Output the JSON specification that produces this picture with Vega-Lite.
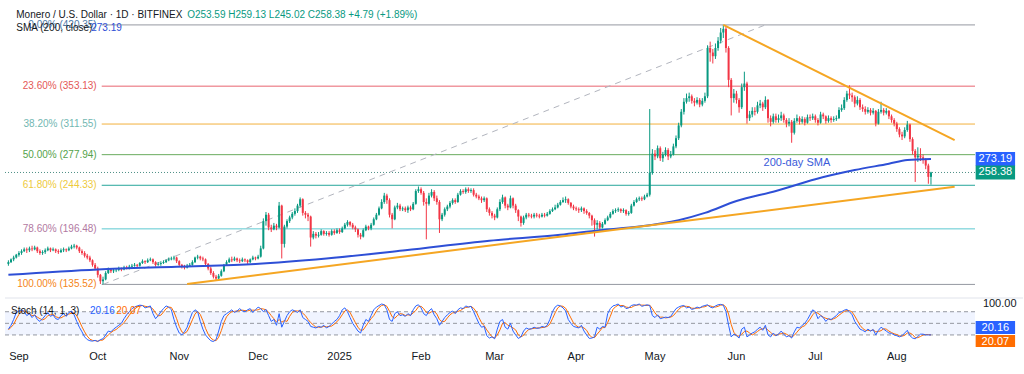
{
"$schema":"https://vega.github.io/schema/vega-lite/v6.json",
"padding":0,
"background":"white",
"width":980,"height":345,
"config":{"font":"Liberation Sans","view":{"stroke":null},"axis":{"labelFont":"Liberation Sans","labelFontSize":11,"labelColor":"#131722","grid":false,"domain":false,"ticks":false},"text":{"font":"Liberation Sans"}},
"datasets":{
"px":[
{"d":"2024-08-28","o":158,"h":162,"l":156,"c":160,"k":35,"s":33},
{"d":"2024-08-29","o":160,"h":164,"l":159,"c":163,"k":45,"s":40},
{"d":"2024-08-30","o":163,"h":167,"l":161,"c":165,"k":60,"s":47},
{"d":"2024-08-31","o":165,"h":169,"l":164,"c":168,"k":78,"s":61},
{"d":"2024-09-01","o":168,"h":172,"l":166,"c":170,"k":82,"s":73},
{"d":"2024-09-02","o":170,"h":174,"l":168,"c":172,"k":85,"s":82},
{"d":"2024-09-03","o":172,"h":176,"l":171,"c":174,"k":80,"s":82},
{"d":"2024-09-04","o":174,"h":176,"l":170,"c":173,"k":70,"s":78},
{"d":"2024-09-05","o":173,"h":177,"l":171,"c":175,"k":75,"s":75},
{"d":"2024-09-06","o":175,"h":178,"l":172,"c":174,"k":65,"s":70},
{"d":"2024-09-07","o":174,"h":178,"l":173,"c":176,"k":72,"s":71},
{"d":"2024-09-08","o":176,"h":177,"l":170,"c":172,"k":60,"s":66},
{"d":"2024-09-09","o":172,"h":174,"l":168,"c":170,"k":55,"s":62},
{"d":"2024-09-10","o":170,"h":173,"l":168,"c":171,"k":62,"s":59},
{"d":"2024-09-11","o":171,"h":175,"l":169,"c":173,"k":70,"s":62},
{"d":"2024-09-12","o":173,"h":177,"l":172,"c":175,"k":78,"s":70},
{"d":"2024-09-13","o":175,"h":176,"l":171,"c":173,"k":68,"s":72},
{"d":"2024-09-14","o":173,"h":176,"l":172,"c":174,"k":72,"s":73},
{"d":"2024-09-15","o":174,"h":175,"l":170,"c":172,"k":62,"s":67},
{"d":"2024-09-16","o":172,"h":174,"l":169,"c":171,"k":60,"s":65},
{"d":"2024-09-17","o":171,"h":175,"l":170,"c":173,"k":70,"s":64},
{"d":"2024-09-18","o":173,"h":176,"l":171,"c":174,"k":75,"s":68},
{"d":"2024-09-19","o":174,"h":175,"l":171,"c":173,"k":68,"s":71},
{"d":"2024-09-20","o":173,"h":177,"l":172,"c":175,"k":78,"s":74},
{"d":"2024-09-21","o":175,"h":179,"l":174,"c":177,"k":82,"s":76},
{"d":"2024-09-22","o":177,"h":180,"l":175,"c":178,"k":72,"s":77},
{"d":"2024-09-23","o":178,"h":179,"l":174,"c":176,"k":55,"s":70},
{"d":"2024-09-24","o":176,"h":177,"l":170,"c":172,"k":40,"s":56},
{"d":"2024-09-25","o":172,"h":174,"l":168,"c":170,"k":28,"s":41},
{"d":"2024-09-26","o":170,"h":172,"l":165,"c":167,"k":15,"s":28},
{"d":"2024-09-27","o":167,"h":169,"l":163,"c":165,"k":8,"s":17},
{"d":"2024-09-28","o":165,"h":167,"l":160,"c":162,"k":5,"s":9},
{"d":"2024-09-29","o":162,"h":163,"l":155,"c":157,"k":4,"s":6},
{"d":"2024-09-30","o":157,"h":159,"l":151,"c":153,"k":6,"s":5},
{"d":"2024-10-01","o":153,"h":155,"l":143,"c":146,"k":3,"s":4},
{"d":"2024-10-02","o":146,"h":147,"l":136,"c":139,"k":8,"s":6},
{"d":"2024-10-03","o":139,"h":144,"l":135.52,"c":141,"k":10,"s":7},
{"d":"2024-10-04","o":141,"h":150,"l":140,"c":148,"k":20,"s":13},
{"d":"2024-10-05","o":148,"h":154,"l":147,"c":152,"k":30,"s":20},
{"d":"2024-10-06","o":152,"h":153,"l":148,"c":150,"k":28,"s":26},
{"d":"2024-10-07","o":150,"h":153,"l":148,"c":151,"k":35,"s":31},
{"d":"2024-10-08","o":151,"h":153,"l":149,"c":151.5,"k":40,"s":34},
{"d":"2024-10-09","o":151.5,"h":155,"l":150,"c":153,"k":45,"s":40},
{"d":"2024-10-10","o":153,"h":154,"l":150,"c":152,"k":50,"s":45},
{"d":"2024-10-11","o":152,"h":156,"l":151,"c":154,"k":62,"s":52},
{"d":"2024-10-12","o":154,"h":156,"l":152,"c":153,"k":72,"s":61},
{"d":"2024-10-13","o":153,"h":157,"l":152,"c":155,"k":80,"s":71},
{"d":"2024-10-14","o":155,"h":158,"l":154,"c":156,"k":88,"s":80},
{"d":"2024-10-15","o":156,"h":159,"l":155,"c":157,"k":92,"s":87},
{"d":"2024-10-16","o":157,"h":158,"l":154,"c":156,"k":95,"s":92},
{"d":"2024-10-17","o":156,"h":160,"l":155,"c":159,"k":97,"s":95},
{"d":"2024-10-18","o":159,"h":163,"l":158,"c":161,"k":96,"s":96},
{"d":"2024-10-19","o":161,"h":162,"l":158,"c":160,"k":90,"s":94},
{"d":"2024-10-20","o":160,"h":164,"l":159,"c":162,"k":92,"s":93},
{"d":"2024-10-21","o":162,"h":165,"l":161,"c":163,"k":95,"s":92},
{"d":"2024-10-22","o":163,"h":164,"l":158,"c":160,"k":75,"s":87},
{"d":"2024-10-23","o":160,"h":161,"l":155,"c":157,"k":62,"s":77},
{"d":"2024-10-24","o":157,"h":160,"l":156,"c":158,"k":70,"s":69},
{"d":"2024-10-25","o":158,"h":161,"l":156,"c":159,"k":80,"s":71},
{"d":"2024-10-26","o":159,"h":162,"l":158,"c":160,"k":88,"s":79},
{"d":"2024-10-27","o":160,"h":163,"l":159,"c":162,"k":95,"s":88},
{"d":"2024-10-28","o":162,"h":165,"l":161,"c":163,"k":92,"s":92},
{"d":"2024-10-29","o":163,"h":166,"l":162,"c":164,"k":85,"s":91},
{"d":"2024-10-30","o":164,"h":167,"l":162,"c":165,"k":60,"s":79},
{"d":"2024-10-31","o":165,"h":166,"l":159,"c":161,"k":40,"s":62},
{"d":"2024-11-01","o":161,"h":162,"l":155,"c":157,"k":25,"s":42},
{"d":"2024-11-02","o":157,"h":158,"l":153,"c":155,"k":20,"s":28},
{"d":"2024-11-03","o":155,"h":157,"l":152,"c":154,"k":28,"s":24},
{"d":"2024-11-04","o":154,"h":158,"l":153,"c":156,"k":40,"s":29},
{"d":"2024-11-05","o":156,"h":159,"l":155,"c":157,"k":60,"s":43},
{"d":"2024-11-06","o":157,"h":162,"l":156,"c":160,"k":78,"s":59},
{"d":"2024-11-07","o":160,"h":166,"l":159,"c":165,"k":85,"s":74},
{"d":"2024-11-08","o":165,"h":168,"l":163,"c":166,"k":80,"s":81},
{"d":"2024-11-09","o":166,"h":167,"l":162,"c":164,"k":55,"s":73},
{"d":"2024-11-10","o":164,"h":166,"l":161,"c":163,"k":35,"s":57},
{"d":"2024-11-11","o":163,"h":164,"l":156,"c":158,"k":20,"s":37},
{"d":"2024-11-12","o":158,"h":159,"l":151,"c":153,"k":12,"s":22},
{"d":"2024-11-13","o":153,"h":155,"l":146,"c":148,"k":5,"s":12},
{"d":"2024-11-14","o":148,"h":150,"l":142,"c":144,"k":3,"s":7},
{"d":"2024-11-15","o":144,"h":146,"l":140,"c":142,"k":8,"s":5},
{"d":"2024-11-16","o":142,"h":147,"l":141,"c":145,"k":30,"s":14},
{"d":"2024-11-17","o":145,"h":152,"l":144,"c":150,"k":55,"s":31},
{"d":"2024-11-18","o":150,"h":158,"l":149,"c":157,"k":70,"s":52},
{"d":"2024-11-19","o":157,"h":162,"l":156,"c":160,"k":75,"s":67},
{"d":"2024-11-20","o":160,"h":165,"l":159,"c":163,"k":80,"s":75},
{"d":"2024-11-21","o":163,"h":166,"l":160,"c":162,"k":85,"s":80},
{"d":"2024-11-22","o":162,"h":166,"l":161,"c":164,"k":78,"s":81},
{"d":"2024-11-23","o":164,"h":165,"l":160,"c":162,"k":82,"s":82},
{"d":"2024-11-24","o":162,"h":164,"l":159,"c":161,"k":88,"s":83},
{"d":"2024-11-25","o":161,"h":165,"l":160,"c":163,"k":82,"s":84},
{"d":"2024-11-26","o":163,"h":164,"l":160,"c":162,"k":80,"s":83},
{"d":"2024-11-27","o":162,"h":163,"l":158,"c":160,"k":85,"s":82},
{"d":"2024-11-28","o":160,"h":164,"l":159,"c":163,"k":88,"s":84},
{"d":"2024-11-29","o":163,"h":167,"l":162,"c":165,"k":78,"s":84},
{"d":"2024-11-30","o":165,"h":166,"l":162,"c":164,"k":85,"s":84},
{"d":"2024-12-01","o":164,"h":168,"l":163,"c":166,"k":92,"s":85},
{"d":"2024-12-02","o":166,"h":178,"l":165,"c":175,"k":88,"s":88},
{"d":"2024-12-03","o":175,"h":208,"l":174,"c":205,"k":80,"s":87},
{"d":"2024-12-04","o":205,"h":215,"l":200,"c":212,"k":86,"s":85},
{"d":"2024-12-05","o":212,"h":214,"l":195,"c":198,"k":70,"s":79},
{"d":"2024-12-06","o":198,"h":201,"l":193,"c":196,"k":55,"s":70},
{"d":"2024-12-07","o":196,"h":203,"l":195,"c":200,"k":60,"s":62},
{"d":"2024-12-08","o":200,"h":202,"l":195,"c":198,"k":45,"s":53},
{"d":"2024-12-09","o":198,"h":226,"l":197,"c":222,"k":75,"s":60},
{"d":"2024-12-10","o":222,"h":223,"l":164,"c":180,"k":40,"s":53},
{"d":"2024-12-11","o":180,"h":201,"l":176,"c":199,"k":55,"s":57},
{"d":"2024-12-12","o":199,"h":207,"l":197,"c":205,"k":70,"s":55},
{"d":"2024-12-13","o":205,"h":211,"l":203,"c":209,"k":80,"s":68},
{"d":"2024-12-14","o":209,"h":215,"l":207,"c":213,"k":85,"s":78},
{"d":"2024-12-15","o":213,"h":219,"l":211,"c":216,"k":82,"s":82},
{"d":"2024-12-16","o":216,"h":224,"l":214,"c":222,"k":78,"s":82},
{"d":"2024-12-17","o":222,"h":231,"l":220,"c":229,"k":85,"s":82},
{"d":"2024-12-18","o":229,"h":230,"l":211,"c":214,"k":65,"s":76},
{"d":"2024-12-19","o":214,"h":216,"l":208,"c":212,"k":60,"s":70},
{"d":"2024-12-20","o":212,"h":214,"l":205,"c":210,"k":55,"s":60},
{"d":"2024-12-21","o":210,"h":211,"l":177,"c":187,"k":42,"s":52},
{"d":"2024-12-22","o":187,"h":194,"l":185,"c":191,"k":40,"s":46},
{"d":"2024-12-23","o":191,"h":193,"l":186,"c":189,"k":38,"s":40},
{"d":"2024-12-24","o":189,"h":193,"l":187,"c":190,"k":42,"s":40},
{"d":"2024-12-25","o":190,"h":196,"l":189,"c":194,"k":40,"s":40},
{"d":"2024-12-26","o":194,"h":195,"l":189,"c":191,"k":45,"s":42},
{"d":"2024-12-27","o":191,"h":194,"l":189,"c":192,"k":38,"s":41},
{"d":"2024-12-28","o":192,"h":194,"l":188,"c":190,"k":42,"s":42},
{"d":"2024-12-29","o":190,"h":196,"l":189,"c":194,"k":48,"s":43},
{"d":"2024-12-30","o":194,"h":196,"l":190,"c":192,"k":55,"s":48},
{"d":"2024-12-31","o":192,"h":197,"l":191,"c":195,"k":60,"s":54},
{"d":"2025-01-01","o":195,"h":197,"l":191,"c":193,"k":70,"s":62},
{"d":"2025-01-02","o":193,"h":199,"l":192,"c":197,"k":85,"s":72},
{"d":"2025-01-03","o":197,"h":203,"l":196,"c":201,"k":90,"s":82},
{"d":"2025-01-04","o":201,"h":206,"l":199,"c":204,"k":80,"s":85},
{"d":"2025-01-05","o":204,"h":205,"l":199,"c":201,"k":65,"s":78},
{"d":"2025-01-06","o":201,"h":203,"l":196,"c":198,"k":50,"s":65},
{"d":"2025-01-07","o":198,"h":200,"l":193,"c":196,"k":40,"s":52},
{"d":"2025-01-08","o":196,"h":197,"l":187,"c":190,"k":30,"s":40},
{"d":"2025-01-09","o":190,"h":192,"l":185,"c":188,"k":25,"s":32},
{"d":"2025-01-10","o":188,"h":197,"l":187,"c":195,"k":45,"s":33},
{"d":"2025-01-11","o":195,"h":201,"l":194,"c":199,"k":60,"s":43},
{"d":"2025-01-12","o":199,"h":200,"l":195,"c":197,"k":55,"s":53},
{"d":"2025-01-13","o":197,"h":203,"l":195,"c":201,"k":70,"s":62},
{"d":"2025-01-14","o":201,"h":209,"l":200,"c":207,"k":85,"s":70},
{"d":"2025-01-15","o":207,"h":214,"l":206,"c":212,"k":92,"s":82},
{"d":"2025-01-16","o":212,"h":221,"l":211,"c":219,"k":96,"s":91},
{"d":"2025-01-17","o":219,"h":229,"l":218,"c":226,"k":100,"s":96},
{"d":"2025-01-18","o":226,"h":236,"l":224,"c":233,"k":98,"s":98},
{"d":"2025-01-19","o":233,"h":235,"l":224,"c":228,"k":85,"s":94},
{"d":"2025-01-20","o":228,"h":230,"l":209,"c":212,"k":60,"s":81},
{"d":"2025-01-21","o":212,"h":214,"l":197,"c":207,"k":55,"s":67},
{"d":"2025-01-22","o":207,"h":222,"l":206,"c":220,"k":75,"s":63},
{"d":"2025-01-23","o":220,"h":225,"l":218,"c":222,"k":80,"s":70},
{"d":"2025-01-24","o":222,"h":224,"l":216,"c":218,"k":70,"s":75},
{"d":"2025-01-25","o":218,"h":221,"l":216,"c":219,"k":72,"s":74},
{"d":"2025-01-26","o":219,"h":221,"l":215,"c":217,"k":68,"s":70},
{"d":"2025-01-27","o":217,"h":222,"l":214,"c":220,"k":75,"s":72},
{"d":"2025-01-28","o":220,"h":222,"l":216,"c":218,"k":70,"s":71},
{"d":"2025-01-29","o":218,"h":226,"l":217,"c":224,"k":85,"s":77},
{"d":"2025-01-30","o":224,"h":240,"l":223,"c":238,"k":95,"s":83},
{"d":"2025-01-31","o":238,"h":243,"l":236,"c":240,"k":98,"s":93},
{"d":"2025-02-01","o":240,"h":242,"l":234,"c":236,"k":90,"s":94},
{"d":"2025-02-02","o":236,"h":238,"l":222,"c":226,"k":75,"s":88},
{"d":"2025-02-03","o":226,"h":230,"l":185,"c":224,"k":70,"s":78},
{"d":"2025-02-04","o":224,"h":236,"l":222,"c":233,"k":82,"s":76},
{"d":"2025-02-05","o":233,"h":240,"l":231,"c":237,"k":88,"s":80},
{"d":"2025-02-06","o":237,"h":239,"l":227,"c":230,"k":72,"s":81},
{"d":"2025-02-07","o":230,"h":233,"l":223,"c":226,"k":62,"s":74},
{"d":"2025-02-08","o":226,"h":228,"l":192,"c":207,"k":45,"s":60},
{"d":"2025-02-09","o":207,"h":214,"l":205,"c":212,"k":55,"s":54},
{"d":"2025-02-10","o":212,"h":220,"l":210,"c":218,"k":65,"s":55},
{"d":"2025-02-11","o":218,"h":223,"l":216,"c":221,"k":72,"s":64},
{"d":"2025-02-12","o":221,"h":227,"l":219,"c":225,"k":78,"s":72},
{"d":"2025-02-13","o":225,"h":230,"l":223,"c":228,"k":82,"s":77},
{"d":"2025-02-14","o":228,"h":230,"l":224,"c":226,"k":75,"s":78},
{"d":"2025-02-15","o":226,"h":236,"l":225,"c":234,"k":85,"s":81},
{"d":"2025-02-16","o":234,"h":240,"l":233,"c":238,"k":90,"s":83},
{"d":"2025-02-17","o":238,"h":240,"l":235,"c":237,"k":88,"s":88},
{"d":"2025-02-18","o":237,"h":242,"l":235,"c":240,"k":95,"s":91},
{"d":"2025-02-19","o":240,"h":242,"l":236,"c":238,"k":92,"s":92},
{"d":"2025-02-20","o":238,"h":241,"l":236,"c":239,"k":94,"s":94},
{"d":"2025-02-21","o":239,"h":241,"l":232,"c":234,"k":80,"s":89},
{"d":"2025-02-22","o":234,"h":236,"l":230,"c":232,"k":65,"s":80},
{"d":"2025-02-23","o":232,"h":234,"l":228,"c":230,"k":50,"s":65},
{"d":"2025-02-24","o":230,"h":232,"l":225,"c":228,"k":40,"s":52},
{"d":"2025-02-25","o":228,"h":232,"l":226,"c":230,"k":42,"s":44},
{"d":"2025-02-26","o":230,"h":231,"l":215,"c":218,"k":18,"s":33},
{"d":"2025-02-27","o":218,"h":220,"l":211,"c":214,"k":12,"s":24},
{"d":"2025-02-28","o":214,"h":216,"l":208,"c":211,"k":15,"s":15},
{"d":"2025-03-01","o":211,"h":213,"l":206,"c":209,"k":10,"s":12},
{"d":"2025-03-02","o":209,"h":220,"l":208,"c":218,"k":35,"s":20},
{"d":"2025-03-03","o":218,"h":229,"l":216,"c":226,"k":55,"s":33},
{"d":"2025-03-04","o":226,"h":234,"l":224,"c":231,"k":60,"s":50},
{"d":"2025-03-05","o":231,"h":232,"l":219,"c":222,"k":40,"s":52},
{"d":"2025-03-06","o":222,"h":224,"l":217,"c":220,"k":35,"s":45},
{"d":"2025-03-07","o":220,"h":233,"l":219,"c":230,"k":50,"s":42},
{"d":"2025-03-08","o":230,"h":231,"l":219,"c":222,"k":30,"s":38},
{"d":"2025-03-09","o":222,"h":224,"l":214,"c":217,"k":20,"s":33},
{"d":"2025-03-10","o":217,"h":218,"l":205,"c":210,"k":11,"s":20},
{"d":"2025-03-11","o":210,"h":211,"l":199,"c":203,"k":15,"s":15},
{"d":"2025-03-12","o":203,"h":211,"l":201,"c":209,"k":30,"s":19},
{"d":"2025-03-13","o":209,"h":214,"l":207,"c":212,"k":38,"s":28},
{"d":"2025-03-14","o":212,"h":214,"l":209,"c":211,"k":35,"s":34},
{"d":"2025-03-15","o":211,"h":213,"l":208,"c":210,"k":36,"s":36},
{"d":"2025-03-16","o":210,"h":214,"l":208,"c":212,"k":40,"s":37},
{"d":"2025-03-17","o":212,"h":214,"l":209,"c":211,"k":37,"s":38},
{"d":"2025-03-18","o":211,"h":213,"l":208,"c":210,"k":38,"s":38},
{"d":"2025-03-19","o":210,"h":214,"l":209,"c":212,"k":42,"s":39},
{"d":"2025-03-20","o":212,"h":214,"l":209,"c":211,"k":40,"s":40},
{"d":"2025-03-21","o":211,"h":215,"l":210,"c":213,"k":45,"s":42},
{"d":"2025-03-22","o":213,"h":218,"l":212,"c":216,"k":60,"s":48},
{"d":"2025-03-23","o":216,"h":220,"l":215,"c":218,"k":80,"s":62},
{"d":"2025-03-24","o":218,"h":223,"l":217,"c":220,"k":92,"s":77},
{"d":"2025-03-25","o":220,"h":225,"l":219,"c":223,"k":97,"s":90},
{"d":"2025-03-26","o":223,"h":228,"l":222,"c":226,"k":95,"s":95},
{"d":"2025-03-27","o":226,"h":231,"l":225,"c":228,"k":90,"s":94},
{"d":"2025-03-28","o":228,"h":232,"l":225,"c":229,"k":82,"s":89},
{"d":"2025-03-29","o":229,"h":230,"l":223,"c":225,"k":60,"s":77},
{"d":"2025-03-30","o":225,"h":226,"l":219,"c":221,"k":50,"s":64},
{"d":"2025-03-31","o":221,"h":223,"l":217,"c":219,"k":42,"s":51},
{"d":"2025-04-01","o":219,"h":221,"l":216,"c":218,"k":40,"s":44},
{"d":"2025-04-02","o":218,"h":220,"l":214,"c":217,"k":38,"s":40},
{"d":"2025-04-03","o":217,"h":221,"l":215,"c":219,"k":45,"s":41},
{"d":"2025-04-04","o":219,"h":220,"l":213,"c":216,"k":30,"s":38},
{"d":"2025-04-05","o":216,"h":218,"l":212,"c":214,"k":20,"s":32},
{"d":"2025-04-06","o":214,"h":215,"l":208,"c":211,"k":11,"s":20},
{"d":"2025-04-07","o":211,"h":212,"l":200,"c":206,"k":12,"s":14},
{"d":"2025-04-08","o":206,"h":208,"l":188,"c":201,"k":15,"s":13},
{"d":"2025-04-09","o":201,"h":206,"l":196,"c":203,"k":40,"s":22},
{"d":"2025-04-10","o":203,"h":205,"l":195,"c":198,"k":35,"s":30},
{"d":"2025-04-11","o":198,"h":204,"l":197,"c":202,"k":42,"s":39},
{"d":"2025-04-12","o":202,"h":208,"l":201,"c":206,"k":40,"s":39},
{"d":"2025-04-13","o":206,"h":211,"l":205,"c":209,"k":75,"s":52},
{"d":"2025-04-14","o":209,"h":215,"l":208,"c":213,"k":88,"s":68},
{"d":"2025-04-15","o":213,"h":218,"l":212,"c":216,"k":95,"s":86},
{"d":"2025-04-16","o":216,"h":219,"l":214,"c":217,"k":97,"s":93},
{"d":"2025-04-17","o":217,"h":220,"l":215,"c":218,"k":100,"s":97},
{"d":"2025-04-18","o":218,"h":219,"l":214,"c":216,"k":92,"s":96},
{"d":"2025-04-19","o":216,"h":219,"l":214,"c":217,"k":95,"s":96},
{"d":"2025-04-20","o":217,"h":218,"l":211,"c":213,"k":88,"s":92},
{"d":"2025-04-21","o":213,"h":216,"l":211,"c":214,"k":90,"s":91},
{"d":"2025-04-22","o":214,"h":224,"l":213,"c":222,"k":96,"s":91},
{"d":"2025-04-23","o":222,"h":228,"l":221,"c":226,"k":98,"s":95},
{"d":"2025-04-24","o":226,"h":231,"l":225,"c":229,"k":97,"s":97},
{"d":"2025-04-25","o":229,"h":232,"l":227,"c":230,"k":100,"s":98},
{"d":"2025-04-26","o":230,"h":232,"l":227,"c":229,"k":94,"s":97},
{"d":"2025-04-27","o":229,"h":234,"l":228,"c":232,"k":96,"s":97},
{"d":"2025-04-28","o":232,"h":236,"l":231,"c":234,"k":98,"s":96},
{"d":"2025-04-29","o":234,"h":328,"l":232,"c":258,"k":96,"s":97},
{"d":"2025-04-30","o":258,"h":284,"l":256,"c":279,"k":70,"s":88},
{"d":"2025-05-01","o":279,"h":283,"l":272,"c":276,"k":65,"s":77},
{"d":"2025-05-02","o":276,"h":288,"l":274,"c":285,"k":72,"s":69},
{"d":"2025-05-03","o":285,"h":287,"l":271,"c":274,"k":62,"s":66},
{"d":"2025-05-04","o":274,"h":281,"l":270,"c":278,"k":64,"s":66},
{"d":"2025-05-05","o":278,"h":286,"l":276,"c":283,"k":66,"s":64},
{"d":"2025-05-06","o":283,"h":285,"l":272,"c":276,"k":65,"s":65},
{"d":"2025-05-07","o":276,"h":282,"l":274,"c":278,"k":68,"s":66},
{"d":"2025-05-08","o":278,"h":290,"l":277,"c":287,"k":78,"s":70},
{"d":"2025-05-09","o":287,"h":299,"l":285,"c":296,"k":88,"s":78},
{"d":"2025-05-10","o":296,"h":313,"l":294,"c":310,"k":92,"s":86},
{"d":"2025-05-11","o":310,"h":328,"l":308,"c":325,"k":95,"s":92},
{"d":"2025-05-12","o":325,"h":340,"l":322,"c":336,"k":96,"s":94},
{"d":"2025-05-13","o":336,"h":345,"l":334,"c":340,"k":90,"s":94},
{"d":"2025-05-14","o":340,"h":346,"l":336,"c":342,"k":92,"s":93},
{"d":"2025-05-15","o":342,"h":344,"l":334,"c":337,"k":86,"s":89},
{"d":"2025-05-16","o":337,"h":340,"l":331,"c":335,"k":88,"s":89},
{"d":"2025-05-17","o":335,"h":341,"l":333,"c":338,"k":92,"s":89},
{"d":"2025-05-18","o":338,"h":340,"l":330,"c":333,"k":90,"s":90},
{"d":"2025-05-19","o":333,"h":340,"l":331,"c":337,"k":94,"s":92},
{"d":"2025-05-20","o":337,"h":346,"l":335,"c":342,"k":96,"s":93},
{"d":"2025-05-21","o":342,"h":398,"l":340,"c":395,"k":98,"s":96},
{"d":"2025-05-22","o":395,"h":402,"l":380,"c":390,"k":92,"s":95},
{"d":"2025-05-23","o":390,"h":394,"l":378,"c":386,"k":90,"s":93},
{"d":"2025-05-24","o":386,"h":400,"l":383,"c":395,"k":95,"s":92},
{"d":"2025-05-25","o":395,"h":407,"l":392,"c":403,"k":98,"s":94},
{"d":"2025-05-26","o":403,"h":417,"l":400,"c":412,"k":99,"s":97},
{"d":"2025-05-27","o":412,"h":420.35,"l":406,"c":416,"k":97,"s":98},
{"d":"2025-05-28","o":416,"h":418,"l":390,"c":395,"k":80,"s":92},
{"d":"2025-05-29","o":395,"h":397,"l":352,"c":360,"k":45,"s":74},
{"d":"2025-05-30","o":360,"h":362,"l":321,"c":340,"k":15,"s":47},
{"d":"2025-05-31","o":340,"h":350,"l":335,"c":345,"k":22,"s":27},
{"d":"2025-06-01","o":345,"h":348,"l":334,"c":338,"k":18,"s":18},
{"d":"2025-06-02","o":338,"h":340,"l":324,"c":330,"k":12,"s":17},
{"d":"2025-06-03","o":330,"h":356,"l":328,"c":352,"k":35,"s":22},
{"d":"2025-06-04","o":352,"h":369,"l":348,"c":356,"k":40,"s":29},
{"d":"2025-06-05","o":356,"h":358,"l":312,"c":318,"k":15,"s":30},
{"d":"2025-06-06","o":318,"h":326,"l":315,"c":322,"k":20,"s":25},
{"d":"2025-06-07","o":322,"h":330,"l":319,"c":326,"k":25,"s":20},
{"d":"2025-06-08","o":326,"h":330,"l":321,"c":325,"k":28,"s":24},
{"d":"2025-06-09","o":325,"h":336,"l":323,"c":332,"k":35,"s":29},
{"d":"2025-06-10","o":332,"h":338,"l":329,"c":334,"k":40,"s":34},
{"d":"2025-06-11","o":334,"h":336,"l":326,"c":330,"k":32,"s":36},
{"d":"2025-06-12","o":330,"h":342,"l":328,"c":338,"k":45,"s":39},
{"d":"2025-06-13","o":338,"h":339,"l":313,"c":318,"k":20,"s":32},
{"d":"2025-06-14","o":318,"h":321,"l":309,"c":314,"k":15,"s":27},
{"d":"2025-06-15","o":314,"h":323,"l":312,"c":320,"k":25,"s":20},
{"d":"2025-06-16","o":320,"h":323,"l":313,"c":316,"k":18,"s":19},
{"d":"2025-06-17","o":316,"h":322,"l":313,"c":318,"k":22,"s":22},
{"d":"2025-06-18","o":318,"h":325,"l":315,"c":321,"k":30,"s":23},
{"d":"2025-06-19","o":321,"h":323,"l":313,"c":316,"k":22,"s":25},
{"d":"2025-06-20","o":316,"h":318,"l":308,"c":312,"k":15,"s":22},
{"d":"2025-06-21","o":312,"h":318,"l":309,"c":314,"k":18,"s":18},
{"d":"2025-06-22","o":314,"h":316,"l":291,"c":302,"k":12,"s":15},
{"d":"2025-06-23","o":302,"h":318,"l":300,"c":315,"k":28,"s":19},
{"d":"2025-06-24","o":315,"h":322,"l":313,"c":318,"k":40,"s":27},
{"d":"2025-06-25","o":318,"h":320,"l":311,"c":314,"k":38,"s":35},
{"d":"2025-06-26","o":314,"h":320,"l":312,"c":317,"k":45,"s":41},
{"d":"2025-06-27","o":317,"h":319,"l":310,"c":313,"k":50,"s":44},
{"d":"2025-06-28","o":313,"h":322,"l":312,"c":319,"k":60,"s":52},
{"d":"2025-06-29","o":319,"h":322,"l":315,"c":318,"k":72,"s":61},
{"d":"2025-06-30","o":318,"h":323,"l":316,"c":320,"k":85,"s":72},
{"d":"2025-07-01","o":320,"h":322,"l":313,"c":316,"k":80,"s":79},
{"d":"2025-07-02","o":316,"h":318,"l":310,"c":313,"k":62,"s":76},
{"d":"2025-07-03","o":313,"h":325,"l":312,"c":322,"k":70,"s":71},
{"d":"2025-07-04","o":322,"h":324,"l":317,"c":320,"k":65,"s":66},
{"d":"2025-07-05","o":320,"h":321,"l":312,"c":315,"k":55,"s":63},
{"d":"2025-07-06","o":315,"h":321,"l":313,"c":318,"k":62,"s":61},
{"d":"2025-07-07","o":318,"h":320,"l":313,"c":316,"k":60,"s":59},
{"d":"2025-07-08","o":316,"h":320,"l":314,"c":317,"k":65,"s":62},
{"d":"2025-07-09","o":317,"h":321,"l":315,"c":318,"k":70,"s":65},
{"d":"2025-07-10","o":318,"h":330,"l":317,"c":327,"k":78,"s":71},
{"d":"2025-07-11","o":327,"h":333,"l":325,"c":329,"k":80,"s":76},
{"d":"2025-07-12","o":329,"h":341,"l":327,"c":338,"k":84,"s":81},
{"d":"2025-07-13","o":338,"h":348,"l":336,"c":345,"k":86,"s":83},
{"d":"2025-07-14","o":345,"h":354,"l":339,"c":343,"k":80,"s":83},
{"d":"2025-07-15","o":343,"h":346,"l":336,"c":341,"k":72,"s":79},
{"d":"2025-07-16","o":341,"h":343,"l":330,"c":334,"k":55,"s":69},
{"d":"2025-07-17","o":334,"h":342,"l":332,"c":338,"k":45,"s":57},
{"d":"2025-07-18","o":338,"h":340,"l":327,"c":330,"k":35,"s":45},
{"d":"2025-07-19","o":330,"h":333,"l":325,"c":328,"k":32,"s":37},
{"d":"2025-07-20","o":328,"h":331,"l":322,"c":325,"k":28,"s":32},
{"d":"2025-07-21","o":325,"h":330,"l":323,"c":327,"k":35,"s":32},
{"d":"2025-07-22","o":327,"h":329,"l":321,"c":324,"k":30,"s":31},
{"d":"2025-07-23","o":324,"h":329,"l":322,"c":326,"k":34,"s":33},
{"d":"2025-07-24","o":326,"h":327,"l":309,"c":312,"k":20,"s":28},
{"d":"2025-07-25","o":312,"h":328,"l":311,"c":325,"k":32,"s":29},
{"d":"2025-07-26","o":325,"h":336,"l":323,"c":327,"k":40,"s":31},
{"d":"2025-07-27","o":327,"h":329,"l":321,"c":324,"k":35,"s":36},
{"d":"2025-07-28","o":324,"h":329,"l":322,"c":326,"k":30,"s":35},
{"d":"2025-07-29","o":326,"h":327,"l":317,"c":320,"k":25,"s":30},
{"d":"2025-07-30","o":320,"h":322,"l":313,"c":316,"k":24,"s":26},
{"d":"2025-07-31","o":316,"h":318,"l":309,"c":312,"k":20,"s":23},
{"d":"2025-08-01","o":312,"h":314,"l":303,"c":306,"k":18,"s":21},
{"d":"2025-08-02","o":306,"h":308,"l":297,"c":300,"k":15,"s":18},
{"d":"2025-08-03","o":300,"h":303,"l":294,"c":298,"k":18,"s":17},
{"d":"2025-08-04","o":298,"h":308,"l":296,"c":305,"k":25,"s":19},
{"d":"2025-08-05","o":305,"h":315,"l":303,"c":311,"k":32,"s":25},
{"d":"2025-08-06","o":311,"h":312,"l":292,"c":295,"k":18,"s":25},
{"d":"2025-08-07","o":295,"h":297,"l":278,"c":282,"k":12,"s":21},
{"d":"2025-08-08","o":282,"h":284,"l":248,"c":275,"k":10,"s":13},
{"d":"2025-08-09","o":275,"h":286,"l":270,"c":277,"k":16,"s":13},
{"d":"2025-08-10","o":277,"h":285,"l":271,"c":275,"k":22,"s":16},
{"d":"2025-08-11","o":275,"h":278,"l":268,"c":272,"k":22,"s":20},
{"d":"2025-08-12","o":272,"h":274,"l":262,"c":266,"k":20,"s":21},
{"d":"2025-08-13","o":266,"h":268,"l":246,"c":253.59,"k":20,"s":21},
{"d":"2025-08-14","o":253.59,"h":259.13,"l":245.02,"c":258.38,"k":20.16,"s":20.07}
],
"sma":[
{"d":"2024-08-28","v":146},{"d":"2024-10-01","v":152},{"d":"2024-10-31","v":155},{"d":"2024-11-30","v":158},{"d":"2024-12-27","v":164},{"d":"2025-01-26","v":173},{"d":"2025-02-27","v":183.5},{"d":"2025-03-26","v":190},{"d":"2025-04-10","v":195},{"d":"2025-04-25","v":199},{"d":"2025-05-10","v":206},{"d":"2025-05-20","v":214},{"d":"2025-06-01","v":227},{"d":"2025-06-16","v":238},{"d":"2025-07-01","v":251},{"d":"2025-07-16","v":261},{"d":"2025-07-29","v":268},{"d":"2025-08-05","v":272},{"d":"2025-08-14","v":273.19}
],
"tl":[
{"g":"support","d":"2024-11-04","v":136},{"g":"support","d":"2025-08-23","v":242.7},
{"g":"resistance","d":"2025-05-27","v":420.35},{"g":"resistance","d":"2025-08-23","v":294}
],
"fibtl":[{"d":"2024-10-03","v":135.52},{"d":"2025-06-12","v":420.35}],
"fib":[
{"t":"0.00% (420.35)","v":420.35},{"t":"23.60% (353.13)","v":353.13},{"t":"38.20% (311.55)","v":311.55},{"t":"50.00% (277.94)","v":277.94},{"t":"61.80% (244.33)","v":244.33},{"t":"78.60% (196.48)","v":196.48},{"t":"100.00% (135.52)","v":135.52}
],
"stl":[{"v":80},{"v":50},{"v":20}],
"months":[
{"d":"2024-09-01","t":"Sep"},{"d":"2024-10-01","t":"Oct"},{"d":"2024-11-01","t":"Nov"},{"d":"2024-12-01","t":"Dec"},{"d":"2025-01-01","t":"2025"},{"d":"2025-02-01","t":"Feb"},{"d":"2025-03-01","t":"Mar"},{"d":"2025-04-01","t":"Apr"},{"d":"2025-05-01","t":"May"},{"d":"2025-06-01","t":"Jun"},{"d":"2025-07-01","t":"Jul"},{"d":"2025-08-01","t":"Aug"}
]
},
"layer":[
{
"layer":[
{"data":{"name":"px"},"mark":{"type":"point","opacity":0,"size":1},
 "encoding":{
  "x":{"field":"d","type":"temporal","title":null,"scale":{"type":"utc","domain":[{"year":2024,"month":8,"date":26,"hours":17,"utc":true},{"year":2025,"month":8,"date":30,"hours":18,"utc":true}]},"axis":null},
  "y":{"field":"c","type":"quantitative","scale":{"domain":[121.7,447.7],"nice":false,"zero":false,"range":[297,0]},"title":null,
       "axis":{"orient":"right","values":[160,200,240,280,320,360,400,440],"format":".2f","labelPadding":8,"labelFontSize":11,"labelColor":"#131722","grid":false,"domain":false,"ticks":false,"title":null}}}},
{"data":{"name":"fib"},"mark":{"type":"rule","strokeWidth":1},
 "encoding":{
  "x":{"datum":{"year":2024,"month":10,"date":2,"hours":12,"utc":true},"type":"temporal","axis":null,"title":null},
  "x2":{"datum":{"year":2025,"month":8,"date":30,"hours":18,"utc":true}},
  "y":{"field":"v","type":"quantitative","axis":null,"title":null},
  "color":{"field":"t","type":"nominal","scale":{"domain":["0.00% (420.35)","23.60% (353.13)","38.20% (311.55)","50.00% (277.94)","61.80% (244.33)","78.60% (196.48)","100.00% (135.52)"],"range":["#9598a1","#e8636f","#f2b13c","#6aab5e","#26a69a","#5cc8d0","#9598a1"]},"legend":null}}},
{"data":{"name":"fib"},"mark":{"type":"text","align":"right","baseline":"middle","dx":-5,"fontSize":10},
 "encoding":{
  "x":{"datum":{"year":2024,"month":10,"date":2,"hours":12,"utc":true},"type":"temporal","axis":null,"title":null},
  "y":{"field":"v","type":"quantitative","axis":null,"title":null},
  "text":{"field":"t"},
  "color":{"field":"t","type":"nominal","legend":null}}},
{"data":{"values":[{}]},"mark":{"type":"rule","color":"#4f8f86","strokeDash":[1,2],"strokeWidth":1},
 "encoding":{"x":{"datum":{"year":2024,"month":8,"date":26,"hours":17,"utc":true},"type":"temporal","axis":null,"title":null},"x2":{"datum":{"year":2025,"month":8,"date":30,"hours":18,"utc":true}},"y":{"datum":258.38,"type":"quantitative","axis":null,"title":null}}},
{"data":{"name":"fibtl"},"mark":{"type":"line","color":"#b2b5be","strokeDash":[6,5],"strokeWidth":1},
 "encoding":{"x":{"field":"d","type":"temporal","axis":null,"title":null},"y":{"field":"v","type":"quantitative","axis":null,"title":null}}},
{"data":{"name":"px"},"mark":{"type":"rule","strokeWidth":1},
 "encoding":{"x":{"field":"d","type":"temporal","axis":null,"title":null},
  "y":{"field":"l","type":"quantitative","axis":null,"title":null},"y2":{"field":"h"},
  "color":{"condition":{"test":"datum.c >= datum.o","value":"#089981"},"value":"#f23645"}}},
{"data":{"name":"px"},"mark":{"type":"bar","width":2},
 "encoding":{"x":{"field":"d","type":"temporal","axis":null,"title":null},"y":{"field":"o","type":"quantitative","axis":null,"title":null},"y2":{"field":"c"},
  "color":{"condition":{"test":"datum.c >= datum.o","value":"#089981"},"value":"#f23645"}}},
{"data":{"name":"sma"},"mark":{"type":"line","color":"#2e4fd6","strokeWidth":2,"interpolate":"monotone"},
 "encoding":{"x":{"field":"d","type":"temporal","axis":null,"title":null},"y":{"field":"v","type":"quantitative","axis":null,"title":null}}},
{"data":{"name":"tl"},"mark":{"type":"line","color":"#f5a623","strokeWidth":2},
 "encoding":{"x":{"field":"d","type":"temporal","axis":null,"title":null},"y":{"field":"v","type":"quantitative","axis":null,"title":null},"detail":{"field":"g"}}},
{"data":{"values":[{}]},"mark":{"type":"text","align":"center","baseline":"middle","fontSize":11,"color":"#3a5bd9","text":"200-day SMA"},
 "encoding":{"x":{"datum":{"year":2025,"month":6,"date":24,"utc":true},"type":"temporal","axis":null,"title":null},"y":{"datum":268.8,"type":"quantitative","axis":null,"title":null}}},
{"data":{"values":[{}]},"mark":{"type":"text","align":"left","baseline":"middle","fontSize":10,"color":"#131722","text":"Monero / U.S. Dollar · 1D · BITFINEX"},
 "encoding":{"x":{"datum":{"year":2024,"month":8,"date":31,"utc":true},"type":"temporal","axis":null,"title":null},"y":{"datum":431.2,"type":"quantitative","axis":null,"title":null}}},
{"data":{"values":[{}]},"mark":{"type":"text","align":"left","baseline":"middle","fontSize":10,"color":"#089981","text":"O253.59 H259.13 L245.02 C258.38 +4.79 (+1.89%)"},
 "encoding":{"x":{"datum":{"year":2024,"month":11,"date":4,"utc":true},"type":"temporal","axis":null,"title":null},"y":{"datum":431.2,"type":"quantitative","axis":null,"title":null}}},
{"data":{"values":[{}]},"mark":{"type":"text","align":"left","baseline":"middle","fontSize":10,"color":"#131722","text":"SMA (200, close)"},
 "encoding":{"x":{"datum":{"year":2024,"month":8,"date":31,"utc":true},"type":"temporal","axis":null,"title":null},"y":{"datum":417,"type":"quantitative","axis":null,"title":null}}},
{"data":{"values":[{}]},"mark":{"type":"text","align":"left","baseline":"middle","fontSize":10,"color":"#2e4fd6","text":"273.19"},
 "encoding":{"x":{"datum":{"year":2024,"month":9,"date":28,"hours":12,"utc":true},"type":"temporal","axis":null,"title":null},"y":{"datum":417,"type":"quantitative","axis":null,"title":null}}},
{"data":{"values":[{"v":273.19,"g":"sma"},{"v":258.38,"g":"close"}]},"mark":{"type":"rect","yOffset":-7,"y2Offset":7},
 "encoding":{"x":{"datum":{"year":2025,"month":8,"date":31,"utc":true},"type":"temporal","axis":null,"title":null},"x2":{"datum":{"year":2025,"month":9,"date":15,"utc":true}},
  "y":{"field":"v","type":"quantitative","axis":null,"title":null},"y2":{"field":"v"},
  "color":{"field":"g","type":"nominal","scale":{"domain":["sma","close"],"range":["#2962ff","#089981"]},"legend":null}}},
{"data":{"values":[{"v":273.19,"t":"273.19"},{"v":258.38,"t":"258.38"}]},"mark":{"type":"text","align":"center","baseline":"middle","fontSize":11,"color":"white"},
 "encoding":{"x":{"datum":{"year":2025,"month":9,"date":7,"hours":12,"utc":true},"type":"temporal","axis":null,"title":null},
  "y":{"field":"v","type":"quantitative","axis":null,"title":null},"text":{"field":"t"}}}
],
"resolve":{"scale":{"color":"independent"}}
},
{
"layer":[
{"data":{"values":[{}]},"mark":{"type":"rect","color":"#2962ff","opacity":0.07},
 "encoding":{
  "x":{"datum":{"year":2024,"month":8,"date":26,"hours":17,"utc":true},"type":"temporal","axis":null,"title":null},
  "x2":{"datum":{"year":2025,"month":8,"date":30,"hours":18,"utc":true}},
  "y":{"datum":80,"type":"quantitative","scale":{"domain":[-6,115.5],"nice":false,"zero":false,"range":[345,298]},"axis":null,"title":null},
  "y2":{"datum":20}}},
{"data":{"name":"stl"},"mark":{"type":"rule","color":"#9598a1","strokeDash":[4,3],"strokeWidth":1},
 "encoding":{"x":{"datum":{"year":2024,"month":8,"date":26,"hours":17,"utc":true},"type":"temporal","axis":null,"title":null},"x2":{"datum":{"year":2025,"month":8,"date":30,"hours":18,"utc":true}},"y":{"field":"v","type":"quantitative","axis":null,"title":null}}},
{"data":{"values":[{}]},"mark":{"type":"rule","color":"#e0e3eb","strokeWidth":1},
 "encoding":{"x":{"datum":{"year":2024,"month":8,"date":26,"hours":17,"utc":true},"type":"temporal","axis":null,"title":null},"x2":{"datum":{"year":2025,"month":9,"date":18,"utc":true}},"y":{"datum":115.5,"type":"quantitative","axis":null,"title":null}}},
{"data":{"name":"px"},"mark":{"type":"line","color":"#ff6d00","strokeWidth":1},
 "encoding":{"x":{"field":"d","type":"temporal","axis":null,"title":null},"y":{"field":"s","type":"quantitative","axis":null,"title":null}}},
{"data":{"name":"px"},"mark":{"type":"line","color":"#2962ff","strokeWidth":1},
 "encoding":{"x":{"field":"d","type":"temporal","axis":null,"title":null},"y":{"field":"k","type":"quantitative","axis":null,"title":null}}},
{"data":{"name":"months"},"mark":{"type":"text","align":"center","baseline":"middle","fontSize":11,"color":"#131722"},
 "encoding":{"x":{"field":"d","type":"temporal","axis":null,"title":null},"y":{"datum":-37,"type":"quantitative","axis":null,"title":null},"text":{"field":"t"}}},
{"data":{"values":[{}]},"mark":{"type":"text","align":"left","baseline":"middle","fontSize":11,"color":"#131722","text":"100.00"},
 "encoding":{"x":{"datum":{"year":2025,"month":9,"date":2,"hours":18,"utc":true},"type":"temporal","axis":null,"title":null},"y":{"datum":100,"type":"quantitative","axis":null,"title":null}}},
{"data":{"values":[{}]},"mark":{"type":"text","align":"left","baseline":"middle","fontSize":10,"color":"#131722","text":"Stoch (14, 1, 3)"},
 "encoding":{"x":{"datum":{"year":2024,"month":8,"date":29,"utc":true},"type":"temporal","axis":null,"title":null},"y":{"datum":82,"type":"quantitative","axis":null,"title":null}}},
{"data":{"values":[{}]},"mark":{"type":"text","align":"left","baseline":"middle","fontSize":10,"color":"#2962ff","text":"20.16"},
 "encoding":{"x":{"datum":{"year":2024,"month":9,"date":28,"utc":true},"type":"temporal","axis":null,"title":null},"y":{"datum":82,"type":"quantitative","axis":null,"title":null}}},
{"data":{"values":[{}]},"mark":{"type":"text","align":"left","baseline":"middle","fontSize":10,"color":"#ff6d00","text":"20.07"},
 "encoding":{"x":{"datum":{"year":2024,"month":10,"date":8,"utc":true},"type":"temporal","axis":null,"title":null},"y":{"datum":82,"type":"quantitative","axis":null,"title":null}}},
{"data":{"values":[{"v":20.16}]},"mark":{"type":"rect","color":"#2962ff","yOffset":-14,"y2Offset":-1},
 "encoding":{"x":{"datum":{"year":2025,"month":8,"date":31,"utc":true},"type":"temporal","axis":null,"title":null},"x2":{"datum":{"year":2025,"month":9,"date":15,"utc":true}},
  "y":{"field":"v","type":"quantitative","axis":null,"title":null},"y2":{"field":"v"}}},
{"data":{"values":[{"v":20.07}]},"mark":{"type":"rect","color":"#ff6d00","yOffset":0,"y2Offset":12},
 "encoding":{"x":{"datum":{"year":2025,"month":8,"date":31,"utc":true},"type":"temporal","axis":null,"title":null},"x2":{"datum":{"year":2025,"month":9,"date":15,"utc":true}},
  "y":{"field":"v","type":"quantitative","axis":null,"title":null},"y2":{"field":"v"}}},
{"data":{"values":[{"v":20.16,"t":"20.16"}]},"mark":{"type":"text","align":"center","baseline":"middle","fontSize":11,"color":"white","dy":-7},
 "encoding":{"x":{"datum":{"year":2025,"month":9,"date":7,"hours":12,"utc":true},"type":"temporal","axis":null,"title":null},
  "y":{"field":"v","type":"quantitative","axis":null,"title":null},"text":{"field":"t"}}},
{"data":{"values":[{"v":20.07,"t":"20.07"}]},"mark":{"type":"text","align":"center","baseline":"middle","fontSize":11,"color":"white","dy":7},
 "encoding":{"x":{"datum":{"year":2025,"month":9,"date":7,"hours":12,"utc":true},"type":"temporal","axis":null,"title":null},
  "y":{"field":"v","type":"quantitative","axis":null,"title":null},"text":{"field":"t"}}}
]
}
],
"resolve":{"scale":{"y":"independent","color":"independent"},"axis":{"y":"independent"}}
}
